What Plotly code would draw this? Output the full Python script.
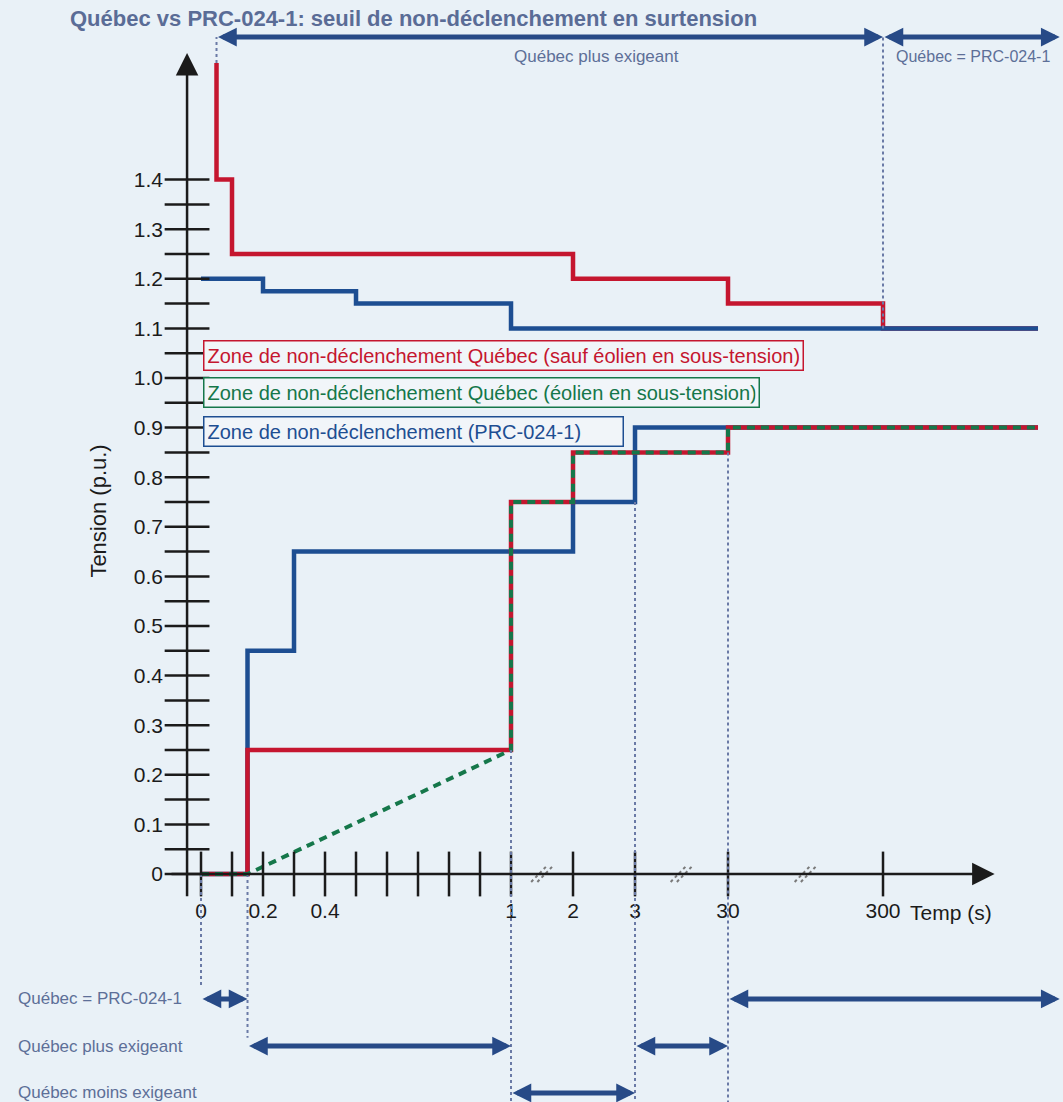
import numpy as np
import plotly.graph_objects as go

# ---------------- data ----------------
# broken time axis: anchor times and their positions on the drawn axis
SCALE_T = [0, 1, 2, 3, 30, 300, 3000]
SCALE_U = [0, 1, 1.2, 1.4, 1.7, 2.2, 2.7]
T_END = 3000  # lines continue to the right edge

# Overvoltage (surtension) thresholds
red_over_t = [0.05, 0.05, 0.1, 0.1, 2, 2, 30, 30, 300, 300, T_END]
red_over_v = [1.635, 1.4, 1.4, 1.25, 1.25, 1.2, 1.2, 1.15, 1.15, 1.1, 1.1]
blue_over_t = [0, 0.2, 0.2, 0.5, 0.5, 1, 1, T_END]
blue_over_v = [1.2, 1.2, 1.175, 1.175, 1.15, 1.15, 1.1, 1.1]

# Undervoltage (sous-tension) thresholds
red_under_t = [0, 0.15, 0.15, 1, 1, 2, 2, 30, 30, T_END]
red_under_v = [0, 0, 0.25, 0.25, 0.75, 0.75, 0.85, 0.85, 0.9, 0.9]
green_under_t = [0, 0.15, 1, 1, 2, 2, 30, 30, T_END]
green_under_v = [0, 0, 0.25, 0.75, 0.75, 0.85, 0.85, 0.9, 0.9]
blue_under_t = [0, 0.15, 0.15, 0.3, 0.3, 2, 2, 3, 3, T_END]
blue_under_v = [0, 0, 0.45, 0.45, 0.65, 0.65, 0.75, 0.75, 0.9, 0.9]

# axis ticks
x_tick_times = [0, 0.1, 0.2, 0.3, 0.4, 0.5, 0.6, 0.7, 0.8, 0.9, 1, 2, 3, 30, 300]
x_label_times = [0, 0.2, 0.4, 1, 2, 3, 30, 300]
x_label_text = ["0", "0.2", "0.4", "1", "2", "3", "30", "300"]
y_label_vals = [0, 0.1, 0.2, 0.3, 0.4, 0.5, 0.6, 0.7, 0.8, 0.9, 1.0, 1.1, 1.2, 1.3, 1.4]
y_label_text = ["0", "0.1", "0.2", "0.3", "0.4", "0.5", "0.6", "0.7", "0.8", "0.9",
                "1.0", "1.1", "1.2", "1.3", "1.4"]
y_minor_vals = [0.05, 0.15, 0.25, 0.35, 0.45, 0.55, 0.65, 0.75, 0.85, 0.95,
                1.05, 1.15, 1.25, 1.35]
break_pairs = [(1, 2), (3, 30), (30, 300)]

# legend boxes
legend_texts = ["Zone de non-déclenchement Québec (sauf éolien en sous-tension)",
                "Zone de non-déclenchement Québec (éolien en sous-tension)",
                "Zone de non-déclenchement (PRC-024-1)"]

# comparison spans (time from, time to); None = right edge
top_spans = [("Québec plus exigeant", 0.05, 300), ("Québec = PRC-024-1", 300, None)]
bottom_rows = ["Québec = PRC-024-1", "Québec plus exigeant", "Québec moins exigeant"]
bottom_spans = [[(0, 0.15), (30, None)], [(0.15, 1), (3, 30)], [(1, 3)]]

# dotted guides: (time, level where the guide starts, end level or None = bottom)
guides_down = [(0, 0, -0.224), (0.15, 0, -0.33), (1, 0.25, None), (3, 0.75, None), (30, 0.85, None)]
guides_up = [(0.05, 1.635), (300, 1.1)]

# ---------------- styles ----------------
RED = "#c5162f"
BLUE = "#1d4e92"
GREEN = "#15774a"
ARROW = "#274a87"
LABEL = "#5d6f98"
DOT = "#6a7aa6"
BG = "#e9f1f7"
INK = "#1b1b1b"
FONT = "Liberation Sans, Arial, sans-serif"

X0, X1 = -0.6484, 2.7806
Y0, Y1 = -0.4597, 1.7621
YAXIS_U = -0.045
RIGHT_EDGE_U = 2.77
TOP_ARROW_V = 1.6875
BOTTOM_V = Y0


def xu(t):
    return float(np.interp(t, SCALE_T, SCALE_U))


def xs(ts):
    return [xu(t) for t in ts]


fig = go.Figure()

# overvoltage
fig.add_trace(go.Scatter(x=xs(red_over_t), y=red_over_v, mode="lines",
                         line=dict(color=RED, width=4.5), hoverinfo="skip", showlegend=False))
fig.add_trace(go.Scatter(x=xs(blue_over_t), y=blue_over_v, mode="lines",
                         line=dict(color=BLUE, width=4.5), hoverinfo="skip", showlegend=False))
# undervoltage
fig.add_trace(go.Scatter(x=xs(blue_under_t), y=blue_under_v, mode="lines",
                         line=dict(color=BLUE, width=4.5), hoverinfo="skip", showlegend=False))
fig.add_trace(go.Scatter(x=xs(red_under_t), y=red_under_v, mode="lines",
                         line=dict(color=RED, width=4.5), hoverinfo="skip", showlegend=False))
fig.add_trace(go.Scatter(x=xs(green_under_t), y=green_under_v, mode="lines",
                         line=dict(color=GREEN, width=4, dash="8px,6px"),
                         hoverinfo="skip", showlegend=False))

# cross tick marks
fig.add_trace(go.Scatter(x=xs(x_tick_times), y=[0] * len(x_tick_times), mode="markers",
                         marker=dict(symbol="line-ns", size=32, line=dict(color=INK, width=2.5)),
                         hoverinfo="skip", showlegend=False))
yt = y_label_vals + y_minor_vals
fig.add_trace(go.Scatter(x=[YAXIS_U] * len(yt), y=yt, mode="markers",
                         marker=dict(symbol="line-ew", size=32, line=dict(color=INK, width=2.5)),
                         hoverinfo="skip", showlegend=False))

shapes = []
annotations = []

# axis arrows
annotations.append(dict(x=YAXIS_U, y=1.655, ax=YAXIS_U, ay=-0.048, xref="x", yref="y",
                        axref="x", ayref="y", text="", showarrow=True, arrowhead=2,
                        arrowsize=1.8, arrowwidth=2.5, arrowcolor=INK))
annotations.append(dict(x=2.56, y=0, ax=-0.1, ay=0, xref="x", yref="y",
                        axref="x", ayref="y", text="", showarrow=True, arrowhead=2,
                        arrowsize=1.8, arrowwidth=2.5, arrowcolor=INK))

# axis breaks
for a, b in break_pairs:
    xm = (xu(a) + xu(b)) / 2
    for off in (-0.01, 0.01):
        shapes.append(dict(type="line", xref="x", yref="y",
                           x0=xm + off - 0.025, y0=-0.016, x1=xm + off + 0.025, y1=0.016,
                           line=dict(color="#7a7a7a", width=2, dash="dot")))

# dotted guides
for t, v, end in guides_down:
    shapes.append(dict(type="line", xref="x", yref="y", x0=xu(t), x1=xu(t), y0=v,
                       y1=(BOTTOM_V if end is None else end),
                       line=dict(color=DOT, width=2, dash="dot")))
for t, v in guides_up:
    shapes.append(dict(type="line", xref="x", yref="y", x0=xu(t), x1=xu(t), y0=v,
                       y1=TOP_ARROW_V, line=dict(color=DOT, width=2, dash="dot")))


def span_arrow(t0, t1, v):
    x0 = xu(t0)
    x1 = RIGHT_EDGE_U if t1 is None else xu(t1)
    return dict(x=x1, y=v, ax=x0, ay=v, xref="x", yref="y", axref="x", ayref="y",
                text="", showarrow=True, arrowhead=2, arrowside="end+start",
                arrowsize=0.75, arrowwidth=5, arrowcolor=ARROW)


# top spans
for label, t0, t1 in top_spans:
    annotations.append(span_arrow(t0, t1, TOP_ARROW_V))
annotations.append(dict(x=1.277, y=1.649, xref="x", yref="y", text=top_spans[0][0],
                        showarrow=False, font=dict(family=FONT, size=17, color=LABEL)))
annotations.append(dict(x=xu(300) + 0.035, y=1.649, xref="x", yref="y", text=top_spans[1][0],
                        xanchor="left", showarrow=False, font=dict(family=FONT, size=16, color=LABEL)))

# bottom rows
row_v = [-0.252, -0.347, -0.4415]
for label, spans, v in zip(bottom_rows, bottom_spans, row_v):
    annotations.append(dict(x=-0.597, y=v, xref="x", yref="y", text=label, xanchor="left",
                            showarrow=False, font=dict(family=FONT, size=17, color=LABEL)))
    for t0, t1 in spans:
        annotations.append(span_arrow(t0, t1, v))

# legend boxes
legend_colors = [RED, GREEN, BLUE]
legend_v = [1.046, 0.970, 0.893]
legend_w = [592, 548, 412]
for txt, col, v, w in zip(legend_texts, legend_colors, legend_v, legend_w):
    annotations.append(dict(x=xu(0) + 0.006, y=v, xref="x", yref="y", text=txt,
                            xanchor="left", yanchor="middle", align="left", width=w,
                            showarrow=False, bgcolor="#f1f5f9", bordercolor=col,
                            borderwidth=1.5, borderpad=3,
                            font=dict(family=FONT, size=20, color=col)))

# axis titles
annotations.append(dict(x=2.419, y=-0.077, xref="x", yref="y", text="Temp (s)",
                        showarrow=False, font=dict(family=FONT, size=21, color=INK)))
annotations.append(dict(x=-0.33, y=0.732, xref="x", yref="y", text="Tension (p.u.)",
                        textangle=-90, showarrow=False,
                        font=dict(family=FONT, size=22, color=INK)))

fig.update_layout(
    width=1063, height=1102,
    margin=dict(l=0, r=0, t=0, b=0),
    paper_bgcolor=BG, plot_bgcolor=BG,
    title=dict(text="<b>Québec vs PRC-024-1: seuil de non-déclenchement en surtension</b>",
               x=70 / 1063, y=1 - 18 / 1102, xanchor="left", yanchor="middle",
               xref="container", yref="container",
               font=dict(family=FONT, size=22, color="#5a6c96")),
    xaxis=dict(range=[X0, X1], showgrid=False, zeroline=False, showline=False,
               tickmode="array", tickvals=xs(x_label_times), ticktext=x_label_text,
               ticks="", anchor="free", position=(0 - Y0) / (Y1 - Y0),
               ticklabelstandoff=22,
               tickfont=dict(family=FONT, size=21, color=INK)),
    yaxis=dict(range=[Y0, Y1], showgrid=False, zeroline=False, showline=False,
               tickmode="array", tickvals=y_label_vals, ticktext=y_label_text,
               ticks="", anchor="free", position=(YAXIS_U - X0) / (X1 - X0),
               ticklabelstandoff=24,
               tickfont=dict(family=FONT, size=21, color=INK)),
    shapes=shapes,
    annotations=annotations,
)

fig.write_html("out.html", config={"displayModeBar": False},
               post_script="document.body.style.margin='0';")
